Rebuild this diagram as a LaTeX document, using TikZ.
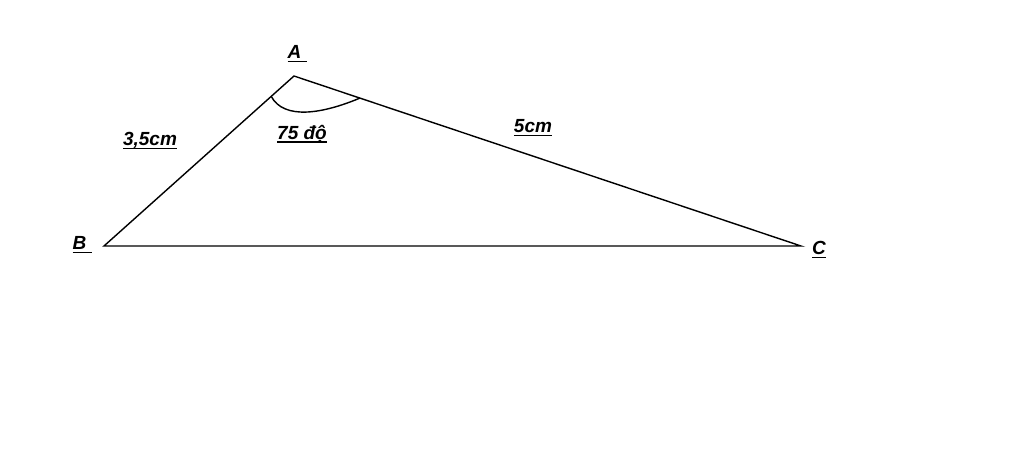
\documentclass[tikz,border=0pt]{standalone}
\usepackage{fontspec}
\setmainfont{Liberation Sans}
\usetikzlibrary{calc}

\newsavebox{\lblbox}
\newcommand{\lbl}[1]{\sbox{\lblbox}{\textbf{\textit{#1}}}%
    \rlap{\usebox{\lblbox}}\raisebox{-3.5pt}{\rule{\wd\lblbox}{1.6pt}}}

\begin{document}
\begin{tikzpicture}[x=1pt,y=-1pt,
    side/.style={line width=1.4pt},
    lab/.style={font=\fontsize{19}{22}\selectfont,inner sep=0pt}]
        \useasboundingbox[fill=white] (0,0) rectangle (1024,468);
        \coordinate (A) at (294,76);
        \coordinate (B) at (104,246);
        \coordinate (C) at (801,246);
        \draw[side] (B) -- (A) -- (C) -- cycle;
        \coordinate (ab) at ($(A)!0.12!(B)$);
        \coordinate (ac) at ($(A)!0.13!(C)$);
        \draw[side] (ab) .. controls (284,120) and (322,114) .. (ac);
        \node[lab] (lA) at (297,54) {\lbl{A\ }};
        \node[lab] (lB) at (82,245) {\lbl{B\ }};
        \node[lab] (lC) at (819,250) {\lbl{C}};
        \node[lab] (lAB) at (150,141) {\lbl{3,5cm}};
        \node[lab] (lAC) at (533,128) {\lbl{5cm}};
        \node[lab] (lang) at (302,134) {\lbl{75 độ}};
    \end{tikzpicture}
\end{document}
